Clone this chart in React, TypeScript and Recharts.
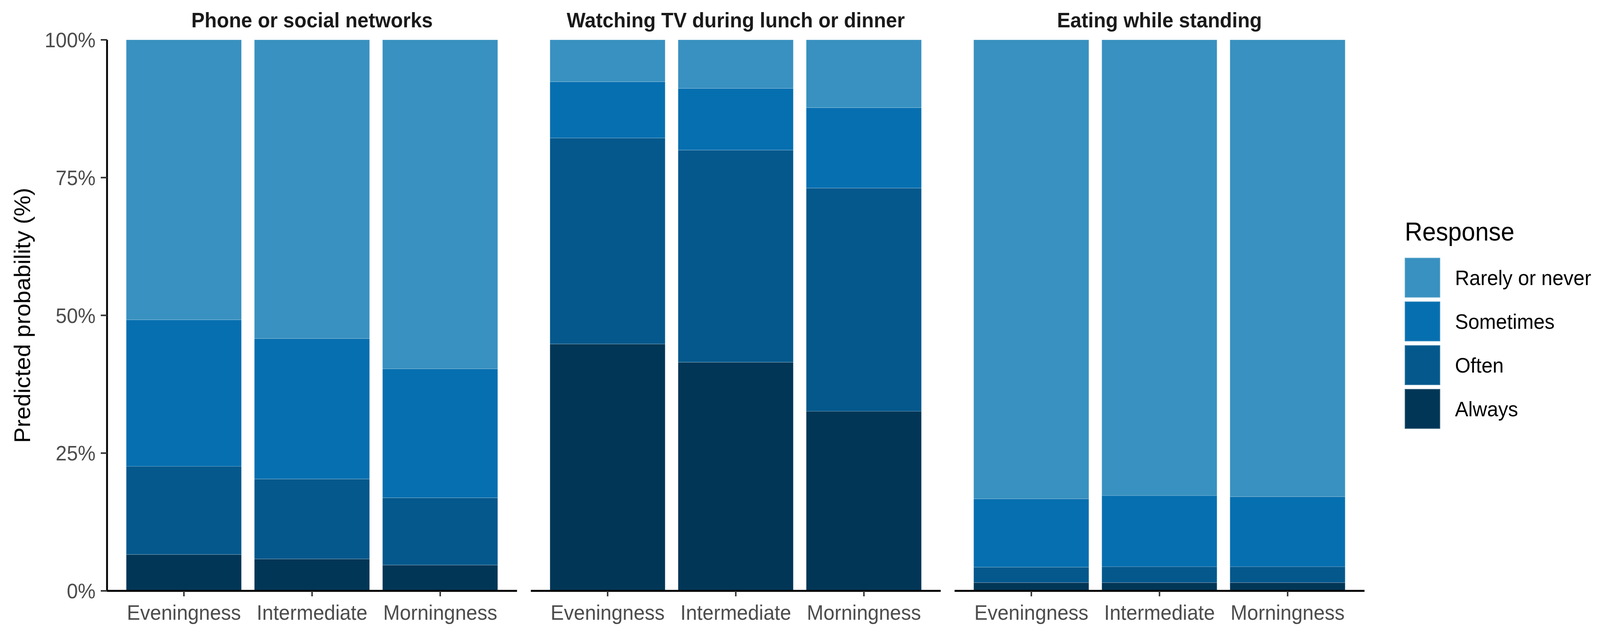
import React from 'react';
import { BarChart, Bar, XAxis, YAxis, Legend, Label } from 'recharts';

const FONT = '"Liberation Sans", Arial, Helvetica, sans-serif';

const categories = ['Eveningness', 'Intermediate', 'Morningness'];
const responses = ['Always', 'Often', 'Sometimes', 'Rarely or never'];
const responseColors = ['#023656', '#04588C', '#066FB0', '#3891C0'];
const yTicks = [0, 25, 50, 75, 100];
const panelTitles = ['Phone or social networks', 'Watching TV during lunch or dinner', 'Eating while standing'];

// Phone or social networks
const phoneAlways = [6.6, 5.8, 4.7];
const phoneOften = [16.0, 14.5, 12.2];
const phoneSometimes = [26.6, 25.5, 23.4];
const phoneRarely = [50.8, 54.2, 59.7];

// Watching TV during lunch or dinner
const tvAlways = [44.8, 41.5, 32.6];
const tvOften = [37.4, 38.5, 40.5];
const tvSometimes = [10.2, 11.2, 14.6];
const tvRarely = [7.6, 8.8, 12.3];

// Eating while standing
const standAlways = [1.5, 1.5, 1.5];
const standOften = [2.8, 2.9, 2.9];
const standSometimes = [12.4, 12.9, 12.7];
const standRarely = [83.3, 82.7, 82.9];

const buildRows = (a: number[], o: number[], s: number[], r: number[]) =>
  categories.map((cat, i) => ({ cat, Always: a[i], Often: o[i], Sometimes: s[i], 'Rarely or never': r[i] }));

const panelData = [
  buildRows(phoneAlways, phoneOften, phoneSometimes, phoneRarely),
  buildRows(tvAlways, tvOften, tvSometimes, tvRarely),
  buildRows(standAlways, standOften, standSometimes, standRarely),
];

const W = 4335;
const H = 1626;
const PLOT_TOP = 102;
const PLOT_BOTTOM = 1513;
const PANEL_W = 1111;
const PANEL_LEFTS = [290, 1438, 2586];
const X_AXIS_H = H - PLOT_BOTTOM;
const PAD = PANEL_W / 3.2 * 0.1;

const YTitle = (props: any) => {
  const vb = props.viewBox || { x: 0, y: PLOT_TOP, width: 290, height: PLOT_BOTTOM - PLOT_TOP };
  const cx = vb.x + 61;
  const cy = vb.y + vb.height / 2;
  return (
    <text
      x={cx}
      y={cy}
      transform={`rotate(-90, ${cx}, ${cy})`}
      textAnchor="middle"
      dy="0.35em"
      fontSize={60}
      fontFamily={FONT}
      fill="#000000"
    >
      Predicted probability (%)
    </text>
  );
};

const LegendBox = () => (
  <div style={{ fontFamily: FONT, color: '#000' }}>
    <div style={{ fontSize: 66, lineHeight: 1, height: 66, marginBottom: 34, whiteSpace: 'nowrap' }}>Response</div>
    {[...responses].reverse().map((r) => {
      const c = responseColors[responses.indexOf(r)];
      return (
        <div key={r} style={{ display: 'flex', alignItems: 'center', height: 102, marginBottom: 10 }}>
          <div style={{ width: 96, height: 102, background: c, boxShadow: 'inset 0 0 0 2px rgba(255,255,255,0.18)' }} />
          <div style={{ marginLeft: 40, fontSize: 54, lineHeight: 1, whiteSpace: 'nowrap' }}>{r}</div>
        </div>
      );
    })}
  </div>
);

const Panel = ({ index }: { index: number }) => {
  const first = index === 0;
  const last = index === 2;
  const left = first ? 0 : PANEL_LEFTS[index];
  const width = first ? PANEL_LEFTS[0] + PANEL_W : last ? W - PANEL_LEFTS[2] : PANEL_W;
  return (
    <div style={{ position: 'absolute', left, top: 0 }}>
      <BarChart
        width={width}
        height={H}
        data={panelData[index]}
        margin={{ top: PLOT_TOP, right: last ? width - PANEL_W : 0, bottom: 0, left: 0 }}
        barCategoryGap="5%"
      >
        <XAxis
          dataKey="cat"
          type="category"
          interval={0}
          padding={{ left: PAD, right: PAD }}
          height={X_AXIS_H}
          tickSize={14}
          tickMargin={22}
          axisLine={{ stroke: '#000', strokeWidth: 5 }}
          tickLine={{ stroke: '#333', strokeWidth: 4 }}
          tick={{ fontSize: 54, fill: '#4D4D4D', fontFamily: FONT }}
        />
        <YAxis
          type="number"
          domain={[0, 100]}
          ticks={yTicks}
          hide={!first}
          width={PANEL_LEFTS[0]}
          tickFormatter={(v: number) => `${v}%`}
          tickSize={17}
          tickMargin={14}
          axisLine={{ stroke: '#000', strokeWidth: 5 }}
          tickLine={{ stroke: '#333', strokeWidth: 4 }}
          tick={{ fontSize: 54, fill: '#4D4D4D', fontFamily: FONT }}
          label={first ? <Label content={<YTitle />} /> : undefined}
        />
        {responses.map((r, i) => (
          <Bar
            key={r}
            dataKey={r}
            stackId="s"
            fill={responseColors[i]}
            stroke="rgba(255,255,255,0.22)"
            strokeWidth={1.5}
            isAnimationActive={false}
          />
        ))}
        {last && (
          <Legend
            layout="horizontal"
            verticalAlign="middle"
            align="center"
            wrapperStyle={{ left: 3806 - PANEL_LEFTS[2], top: 560, width: 520, height: 560 }}
            content={() => <LegendBox />}
          />
        )}
      </BarChart>
      <div
        style={{
          position: 'absolute',
          left: first ? PANEL_LEFTS[0] : 0,
          top: 24,
          width: PANEL_W,
          textAlign: 'center',
          fontFamily: FONT,
          fontWeight: 'bold',
          fontSize: 54,
          lineHeight: 1,
          color: '#1A1A1A',
          whiteSpace: 'nowrap',
        }}
      >
        {panelTitles[index]}
      </div>
    </div>
  );
};

export default function App() {
  // The browser viewport can be narrower than the 4335px design width; squeeze horizontally to fit it.
  const vw = typeof window !== 'undefined' ? window.innerWidth : W;
  const sx = Math.min(1, vw / W);
  return (
    <div style={{ width: '100vw', height: H, overflow: 'hidden', background: '#fff' }}>
      <style>{'body{margin:0;overflow:hidden;}'}</style>
      <div
        style={{
          position: 'relative',
          width: W,
          height: H,
          background: '#fff',
          transform: `scaleX(${sx})`,
          transformOrigin: '0 0',
        }}
      >
        <Panel index={0} />
        <Panel index={1} />
        <Panel index={2} />
      </div>
    </div>
  );
}
